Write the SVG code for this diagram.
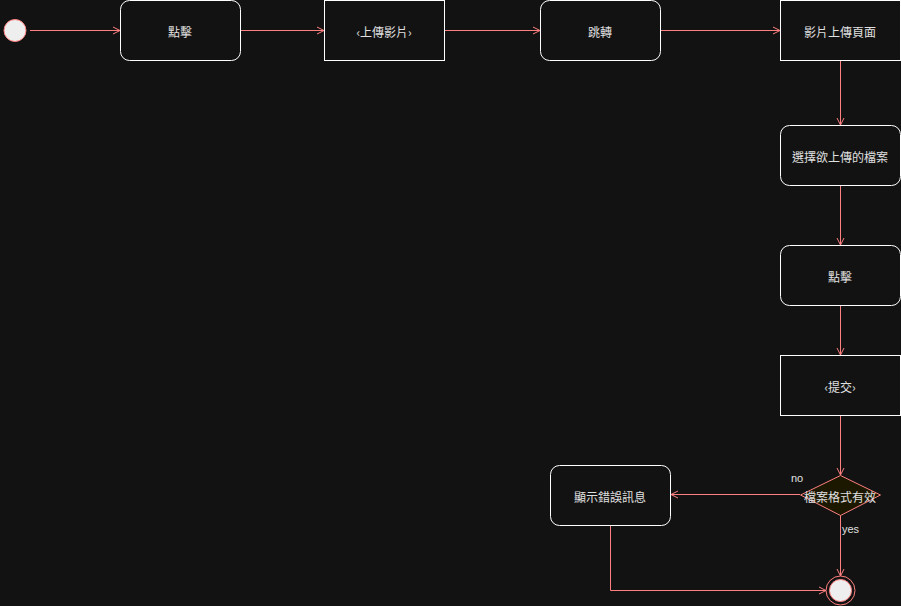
<svg xmlns="http://www.w3.org/2000/svg" width="901" height="606" viewBox="0 0 901 606">
<defs>
<marker id="arr" markerWidth="10" markerHeight="10" refX="8" refY="5" orient="auto" markerUnits="userSpaceOnUse">
<path d="M1,1.5 L8,5 L1,8.5" fill="none" stroke="#ff8080" stroke-width="1"/>
</marker>
<style>
.n{fill:#121212;stroke:#ffffff;stroke-width:1}
.t{font-family:"Noto Sans CJK TC","Liberation Sans",sans-serif;font-size:12px;fill:#e0e0e0;text-anchor:middle;dominant-baseline:central}
.c{fill:none;stroke:#ff8080;stroke-width:1}
.l{font-family:"Liberation Sans",sans-serif;font-size:11px;fill:#e0e0e0}
</style>
</defs>
<rect width="901" height="606" fill="#121212"/>
<g id="connectors">
<path class="c" d="M30,30.5 L120,30.5" marker-end="url(#arr)"/>
<path class="c" d="M240,30.5 L324,30.5" marker-end="url(#arr)"/>
<path class="c" d="M444,30.5 L540,30.5" marker-end="url(#arr)"/>
<path class="c" d="M660,30.5 L780,30.5" marker-end="url(#arr)"/>
<path class="c" d="M840.5,60 L840.5,125" marker-end="url(#arr)"/>
<path class="c" d="M840.5,185 L840.5,245" marker-end="url(#arr)"/>
<path class="c" d="M840.5,305 L840.5,355" marker-end="url(#arr)"/>
<path class="c" d="M840.5,415 L840.5,475" marker-end="url(#arr)"/>
<path class="c" d="M800,494.5 L671,494.5" marker-end="url(#arr)"/>
<path class="c" d="M840.5,515 L840.5,576" marker-end="url(#arr)"/>
<path class="c" d="M610.5,525 L610.5,590.5 L826,590.5" marker-end="url(#arr)"/>
<text class="l" x="791" y="482">no</text>
<text class="l" x="842" y="533">yes</text>
</g>
<g id="start"><circle cx="15" cy="30.5" r="11" fill="#eeeeee" stroke="#ff8080"/></g>
<g id="n1"><rect class="n" x="120.5" y="0.5" width="120" height="60" rx="9"/><text class="t" x="180" y="31">點擊</text></g>
<g id="n2"><rect class="n" x="324.5" y="0.5" width="120" height="60"/><text class="t" x="384" y="31">‹上傳影片›</text></g>
<g id="n3"><rect class="n" x="540.5" y="0.5" width="120" height="60" rx="9"/><text class="t" x="600" y="31">跳轉</text></g>
<g id="n4"><rect class="n" x="780.5" y="0.5" width="120" height="60"/><text class="t" x="840" y="31">影片上傳頁面</text></g>
<g id="n5"><rect class="n" x="780.5" y="125.5" width="120" height="60" rx="9"/><text class="t" x="840" y="156">選擇欲上傳的檔案</text></g>
<g id="n6"><rect class="n" x="780.5" y="245.5" width="120" height="60" rx="9"/><text class="t" x="840" y="276">點擊</text></g>
<g id="n7"><rect class="n" x="780.5" y="355.5" width="120" height="60"/><text class="t" x="840" y="386">‹提交›</text></g>
<g id="decision"><path d="M840.5,475.5 L880.5,495 L840.5,515.5 L800.5,495 Z" fill="#1c1800" stroke="#ff8080"/><text class="t" x="840" y="496">檔案格式有效</text></g>
<g id="err"><rect class="n" x="550.5" y="465.5" width="120" height="60" rx="9"/><text class="t" x="610" y="496">顯示錯誤訊息</text></g>
<g id="end"><circle cx="840.5" cy="590.5" r="14.5" fill="none" stroke="#ff8080"/><circle cx="840.5" cy="590.5" r="11" fill="#eeeeee" stroke="#ff8080"/></g>
</svg>
